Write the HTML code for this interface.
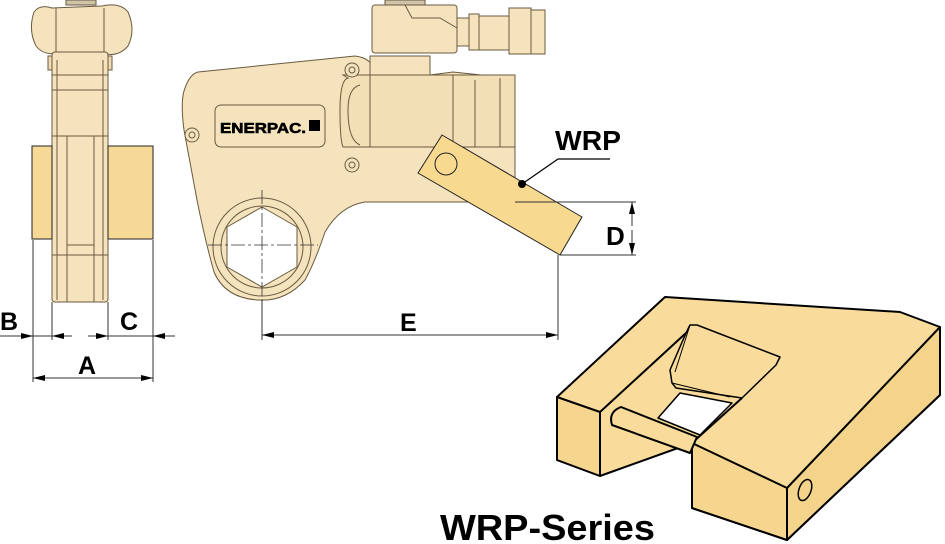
<!DOCTYPE html>
<html><head><meta charset="utf-8"><style>
body{margin:0;background:#fff}
svg{display:block}
text{font-family:"Liberation Sans",Arial,sans-serif;font-weight:bold;fill:#000}
</style></head><body>
<svg width="945" height="544" viewBox="0 0 945 544" xmlns="http://www.w3.org/2000/svg">
<defs>
<marker id="ar" markerWidth="12" markerHeight="6" refX="12" refY="3" orient="auto" markerUnits="userSpaceOnUse"><path d="M0,0 L12,3 L0,6 z" fill="#000"/></marker>
</defs>
<!-- LEFT SIDE VIEW -->
<g stroke="#6a5a40" stroke-width="1" fill="#f5e3bd">
<path d="M52,8 Q40,4 34,12 Q28,30 36,46 Q44,56 58,53 L102,53 Q118,58 128,46 Q136,30 128,12 Q120,2 102,6 Z"/>
<line x1="56" y1="8" x2="56" y2="52"/><line x1="104" y1="8" x2="104" y2="52"/>
<rect x="66" y="0" width="30" height="5" fill="#cfc3a8"/>
<rect x="48" y="56" width="64" height="14" fill="#efdcb0"/>
<rect x="52" y="52" width="56" height="250" rx="3"/>
<line x1="52" y1="75" x2="108" y2="75"/><line x1="52" y1="90" x2="108" y2="90"/>
<line x1="67" y1="136" x2="67" y2="302"/><line x1="94" y1="136" x2="94" y2="302"/>
<line x1="52" y1="136" x2="108" y2="136"/>
<line x1="67" y1="245" x2="94" y2="245"/><line x1="52" y1="255" x2="108" y2="255"/>
<line x1="57" y1="60" x2="57" y2="300"/><line x1="103" y1="60" x2="103" y2="300"/>
</g>
<rect x="32" y="146" width="20" height="93" fill="#f7d997" stroke="#222" stroke-width="1"/>
<rect x="108" y="146" width="45" height="93" fill="#f7d997" stroke="#222" stroke-width="1"/>
<g stroke="#333" stroke-width="1">
<line x1="33" y1="240" x2="33" y2="382"/><line x1="52" y1="302" x2="52" y2="340"/>
<line x1="108" y1="302" x2="108" y2="340"/><line x1="153" y1="240" x2="153" y2="382"/>
<line x1="0" y1="336" x2="33" y2="336" marker-end="url(#ar)"/>
<line x1="72" y1="336" x2="52" y2="336" marker-end="url(#ar)"/>
<line x1="33" y1="336" x2="52" y2="336"/>
<line x1="88" y1="336" x2="108" y2="336" marker-end="url(#ar)"/>
<line x1="108" y1="336" x2="153" y2="336"/>
<line x1="175" y1="336" x2="153" y2="336" marker-end="url(#ar)"/>
<line x1="60" y1="378" x2="33" y2="378" marker-end="url(#ar)"/>
<line x1="120" y1="378" x2="153" y2="378" marker-end="url(#ar)"/>
<line x1="60" y1="378" x2="120" y2="378"/>
</g>
<text x="0" y="330" font-size="25">B</text>
<text x="120" y="330" font-size="25">C</text>
<text x="78" y="374" font-size="25">A</text>

<!-- MAIN TOOL -->
<g stroke="#6a5a40" stroke-width="1" fill="#f5e3bd">
<rect x="372" y="5" width="85" height="48" rx="3"/>
<path d="M405,5 L412,18 L440,18 L457,28" fill="none"/>
<rect x="457" y="18" width="12" height="28"/>
<rect x="469" y="14" width="10" height="36"/>
<rect x="479" y="16" width="30" height="34"/>
<rect x="509" y="8" width="22" height="46"/>
<rect x="531" y="10" width="14" height="44"/>
<rect x="385" y="0" width="40" height="5" fill="#cfc3a8"/>
<path d="M198,72 L355,56 Q372,58 375,72 L375,75 L430,75 L453,72 L500,77 L515,95 L515,202 L365,202 Q340,206 325,232 Q315,262 305,280 Q285,302 258,300 Q225,298 214,272 Q205,240 197,200 L184,130 Q180,100 185,88 Q190,74 198,72 Z"/>
<rect x="370" y="56" width="60" height="19"/>
<path d="M343,75 L515,75 L515,147 L343,147 Q340,140 340,110 Q340,80 348,78 Z" fill="#f3dfb5"/>
<path d="M360,85 Q348,88 348,110 Q348,140 360,145" fill="none"/>
<line x1="370" y1="75" x2="370" y2="147"/>
<line x1="453" y1="75" x2="453" y2="147"/><line x1="475" y1="80" x2="475" y2="147"/><line x1="500" y1="78" x2="500" y2="147"/>
<rect x="215" y="105" width="110" height="42" rx="6"/>
<circle cx="192" cy="135" r="7"/><circle cx="192" cy="135" r="3"/>
<circle cx="352" cy="70" r="7"/><circle cx="352" cy="70" r="3"/>
<circle cx="352" cy="165" r="7"/><circle cx="352" cy="165" r="3"/>
<circle cx="262" cy="247" r="49"/>
<circle cx="262" cy="247" r="41"/>
<polygon points="262,207 297,227 297,267 262,287 227,267 227,227" fill="#fff"/>
</g>
<g stroke="#333" stroke-width="0.8" stroke-dasharray="14,3,3,3">
<line x1="262" y1="190" x2="262" y2="300"/><line x1="208" y1="245" x2="318" y2="245"/>
</g>
<text x="220" y="133" font-size="15" textLength="86" lengthAdjust="spacingAndGlyphs" stroke="#000" stroke-width="0.6">ENERPAC.</text>
<rect x="309" y="120" width="11" height="11" fill="#000"/>
<!-- WRP bar -->
<polygon points="418,173 442,135 582,217 560,255" fill="#f7d98f" stroke="#222" stroke-width="1"/>
<circle cx="446" cy="164" r="11" fill="none" stroke="#222" stroke-width="1"/>
<circle cx="522" cy="184" r="4" fill="#000"/>
<polyline points="522,184 558,159 610,159" fill="none" stroke="#000" stroke-width="1.2"/>
<text x="555" y="150" font-size="28" textLength="66" lengthAdjust="spacingAndGlyphs">WRP</text>
<g stroke="#333" stroke-width="1">
<line x1="515" y1="202" x2="636" y2="202"/><line x1="560" y1="255" x2="636" y2="255"/>
<line x1="632" y1="226" x2="632" y2="202" marker-end="url(#ar)"/>
<line x1="632" y1="230" x2="632" y2="255" marker-end="url(#ar)"/>
<line x1="262" y1="300" x2="262" y2="340"/><line x1="558" y1="255" x2="558" y2="340"/>
<line x1="380" y1="335" x2="262" y2="335" marker-end="url(#ar)"/>
<line x1="430" y1="335" x2="558" y2="335" marker-end="url(#ar)"/>
<line x1="380" y1="335" x2="430" y2="335"/>
</g>
<text x="606" y="245" font-size="26">D</text>
<text x="400" y="331" font-size="25">E</text>

<!-- 3D WRP BLOCK -->
<g stroke="#000" stroke-width="2" fill="#f9dc9b" stroke-linejoin="round">
<path d="M557,397 L665,297 L900,312 L940,327 L940,395 L787,540 L692,508 L692,443 L600,476 L557,460 Z"/>
<path d="M557,397 L600,412 L600,476 L557,460 Z" fill="#f6d68f"/>
<path d="M692,443 L787,488 L787,540 L692,508 Z" fill="#f6d68f"/>
<path d="M787,488 L940,327 L940,395 L787,540 Z" fill="#f4d38b"/>
<path d="M600,412 L686,333" fill="none"/>
<path d="M686,333 L690,325 L697,325 L780,357 L776,365 L742,398" fill="none" stroke-width="1.5"/>
<path d="M686,333 L670,370 L672,383 L676,388 L742,398" fill="#f9dc9b" stroke-width="1.5"/>
<path d="M672,383 L730,397" fill="none" stroke-width="1"/>
<path d="M690,325 L675,372" fill="none" stroke-width="1"/>
<polygon points="658,418 680,393 732,403 700,435" fill="#fff" stroke-width="1.5"/>
<path d="M692,443 L742,398" fill="none"/>
<path d="M621,407 L697,437 L690,453 L612,425 Q608,412 621,407 Z" fill="#f9dc9b"/>
<ellipse cx="805" cy="490" rx="6" ry="11" transform="rotate(20 805 490)" fill="none" stroke-width="1.5"/>
</g>
<text x="440" y="540" font-size="36" textLength="215" lengthAdjust="spacingAndGlyphs">WRP-Series</text>
</svg>
</body></html>
